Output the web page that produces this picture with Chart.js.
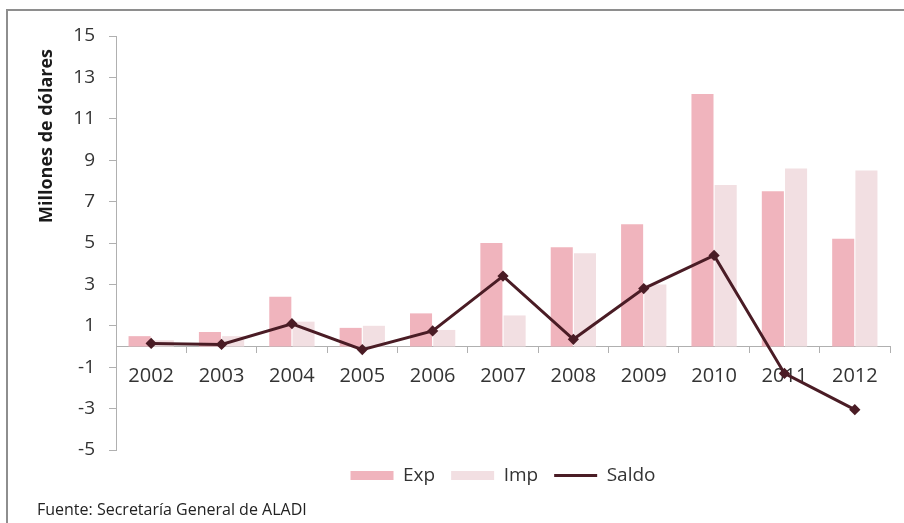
<!DOCTYPE html>
<html>
<head>
<meta charset="utf-8">
<script src="https://cdn.jsdelivr.net/npm/chart.js@4.4.1/dist/chart.umd.min.js"></script>
<style>
  html,body{margin:0;padding:0;background:#fff;}
  #wrap{position:relative;width:904px;height:523px;overflow:hidden;}
  #frame{position:absolute;left:6px;top:9px;width:920px;height:540px;border:2px solid #8e8e8e;box-sizing:border-box;}
  canvas{position:absolute;left:0;top:0;}
</style>
</head>
<body>
<div id="wrap">
  <div id="frame"></div>
  <canvas id="c" width="904" height="523"></canvas>
</div>
<script>
const categories = ['2002','2003','2004','2005','2006','2007','2008','2009','2010','2011','2012'];
const expValues  = [0.5, 0.7, 2.4, 0.9, 1.6, 5.0, 4.8, 5.9, 12.2, 7.5, 5.2];
const impValues  = [0.3, 0.5, 1.2, 1.0, 0.8, 1.5, 4.5, 3.0, 7.8, 8.6, 8.5];
const saldoValues= [0.15, 0.1, 1.1, -0.15, 0.75, 3.4, 0.35, 2.8, 4.4, -1.3, -3.05];
const yTitle = 'Millones de dólares';
const sourceNote = 'Fuente: Secretaría General de ALADI';

const FONT = '"Open Sans", Lato, sans-serif';

const extras = {
  id: 'extras',
  afterDraw(chart) {
    const ctx = chart.ctx;
    ctx.save();
    ctx.fillStyle = '#1a1a1a';
    ctx.font = 'bold 18px ' + FONT;
    ctx.translate(47, 136);
    ctx.rotate(-Math.PI / 2);
    ctx.textAlign = 'center';
    ctx.textBaseline = 'middle';
    ctx.fillText(yTitle, 0, 0);
    ctx.restore();

    ctx.save();
    ctx.fillStyle = '#222';
    ctx.font = '16px ' + FONT;
    ctx.textAlign = 'left';
    ctx.textBaseline = 'middle';
    ctx.fillText(sourceNote, 37, 510, 270);
    ctx.restore();
  }
};

new Chart(document.getElementById('c'), {
  data: {
    labels: categories,
    datasets: [
      { type: 'line', label: 'Saldo', data: saldoValues, borderColor: '#4a1c25', backgroundColor: '#4a1c25',
        borderWidth: 3, pointStyle: 'rectRot', pointRadius: 3.5, pointBackgroundColor: '#4a1c25', tension: 0, order: 0 },
      { type: 'bar', label: 'Exp', data: expValues, backgroundColor: '#f0b4bd', borderWidth: 0,
        categoryPercentage: 0.66, barPercentage: 0.95, order: 1 },
      { type: 'bar', label: 'Imp', data: impValues, backgroundColor: '#f2dfe2', borderWidth: 0,
        categoryPercentage: 0.66, barPercentage: 0.95, order: 1 }
    ]
  },
  options: {
    responsive: false,
    animation: false,
    layout: { padding: { top: 36, right: 14, bottom: 28, left: 0 } },
    scales: {
      x: {
        position: { y: 0 },
        grid: { drawOnChartArea: false, drawTicks: true, offset: true, tickLength: 6, color: '#b0b0b0' },
        border: { color: '#b0b0b0', width: 1 },
        ticks: { color: '#333', font: { family: FONT, size: 20 }, padding: 12, maxRotation: 0, autoSkip: false }
      },
      y: {
        min: -5, max: 15,
        afterFit(scale) { scale.width = 116; },
        grid: { drawOnChartArea: false, drawTicks: true, tickLength: 7, color: '#b0b0b0' },
        border: { color: '#b0b0b0', width: 1 },
        ticks: { stepSize: 2, color: '#333', font: { family: FONT, size: 19 }, padding: 14 }
      }
    },
    plugins: {
      legend: {
        position: 'bottom',
        fullSize: false,
        labels: {
          usePointStyle: true,
          pointStyleWidth: 43,
          boxHeight: 9,
          padding: 16,
          color: '#333',
          font: { family: FONT, size: 19 },
          sort: (a, b) => ({Exp:0, Imp:1, Saldo:2}[a.text] - {Exp:0, Imp:1, Saldo:2}[b.text]),
          generateLabels(chart) {
            const items = Chart.defaults.plugins.legend.labels.generateLabels(chart);
            items.forEach(it => {
              if (it.text === 'Saldo') { it.pointStyle = 'line'; it.lineWidth = 3; it.strokeStyle = '#4a1c25'; }
              else { it.pointStyle = 'rect'; it.lineWidth = 0; }
            });
            return items;
          }
        }
      },
      tooltip: { enabled: false }
    }
  },
  plugins: [extras]
});
</script>
</body>
</html>
